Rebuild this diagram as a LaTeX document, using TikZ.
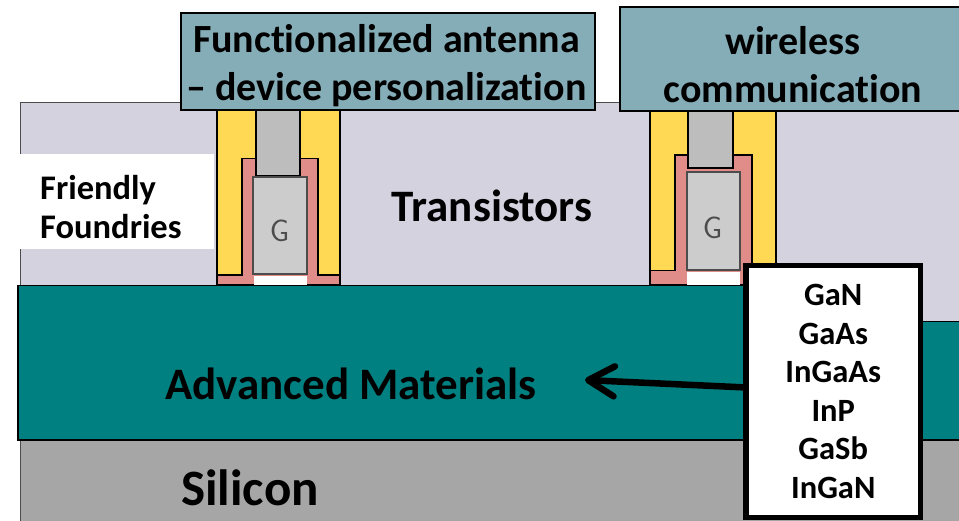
\documentclass[tikz,border=0pt]{standalone}
\usepackage{fontspec}
\setmainfont[Ligatures=NoCommon]{Carlito}
\usetikzlibrary{shapes,arrows.meta,positioning}
\definecolor{bgGray}{HTML}{D3D2DE}
\definecolor{tealLayer}{HTML}{008080}
\definecolor{siliconGray}{HTML}{A6A6A6}
\definecolor{antennaBlue}{HTML}{85ADB8}
\definecolor{spacerYellow}{HTML}{FFD954}
\definecolor{oxidePink}{HTML}{E08C88}
\definecolor{contactGray}{HTML}{BDBDBD}
\definecolor{gateGray}{HTML}{CCCCCC}
\begin{document}
\begin{tikzpicture}
  [
    x=1pt, y=-1pt,
    Layer/.style={rectangle, inner sep=0pt, anchor=north west},
    Antenna/.style={rectangle, draw=black, fill=antennaBlue, line width=1.5pt, inner sep=0pt},
    Label/.style={inner sep=0pt, align=center, font=\fontsize{45}{48}\selectfont\bfseries},
    AntennaText/.style={Label, font=\fontsize{40}{48}\selectfont\bfseries},
    Yellow/.style={draw=black, fill=spacerYellow, line width=1.4pt},
    Pink/.style={draw=black, fill=oxidePink, line width=1.4pt},
    Contact/.style={rectangle, draw=black, fill=contactGray, line width=1.2pt, inner sep=0pt},
    Gate/.style={rectangle, draw=black!70, fill=gateGray, line width=1.5pt, inner sep=0pt},
    GateText/.style={inner sep=0pt, text=black!70, font=\fontsize{31}{33}\sffamily},
    Drain/.style={rectangle, fill=white, inner sep=0pt}
  ]
  \useasboundingbox (0, 0) rectangle (959, 520);
  % Layers
  \node[Layer, fill=bgGray, draw=black!70, line width=0.8pt, minimum width=960pt, minimum height=230pt] (tran) at(19.5, 102) {};
  \node[Layer, fill=siliconGray, draw=black!70, line width=0.8pt, minimum width=960pt, minimum height=90pt] (si) at(19.5, 440) {};
  \draw[fill=tealLayer, line width=1.4pt] (18, 285.5) -- (800, 285.5) -- (800, 321.5) -- (965, 321.5) -- (965, 440) -- (18, 440) -- cycle;
  \node[Layer, fill=white, minimum width=194pt, minimum height=95pt] (foundry) at(19.5, 154) {};
  % First transistor
  \draw[Yellow] (217, 110) rectangle (340, 285);
  \draw[Pink] (242, 285) -- (217, 285) -- (217, 275) -- (242, 275) -- (242, 158.5) -- (318, 158.5) -- (318, 275) -- (340, 275) -- (340, 285) -- cycle;
  \node[Contact, minimum width=44pt, minimum height=66pt] (c1) at(278, 143) {};
  \node[Gate, minimum width=54pt, minimum height=97pt] (g1) at(280, 225.5) {};
  \node[GateText] (g1t) at(279.5, 231) {G};
  \node[Drain, minimum width=53pt, minimum height=9pt] (d1) at(280.5, 280.5) {};
  % Second transistor
  \draw[Yellow] (650, 110) rectangle (776, 285);
  \draw[Pink] (675, 285) -- (650, 285) -- (650, 270.5) -- (675, 270.5) -- (675, 155) -- (752, 155) -- (752, 285) -- cycle;
  \node[Contact, minimum width=45pt, minimum height=58pt] (c2) at(710.5, 139) {};
  \node[Gate, minimum width=53pt, minimum height=98pt] (g2) at(713.5, 221) {};
  \node[GateText] (g2t) at(712.5, 228) {G};
  \node[Drain, minimum width=53pt, minimum height=13pt] (d2) at(713.5, 278.5) {};
  \draw[line width=1.4pt] (18, 285.5) -- (745, 285.5);
  % Antenna boxes
  \node[Antenna, minimum width=414pt, minimum height=97pt] (ant1) at(388, 61.5) {};
  \node[AntennaText] (ant1t) at(386.5, 66) {Functionalized antenna\\– device personalization};
  \node[Antenna, minimum width=350pt, minimum height=104pt] (ant2) at(795, 59) {};
  \node[AntennaText] (ant2t) at(793, 65) {wireless\\communication};
  % Text
  \node[Label, anchor=west, align=left, font=\fontsize{34.5}{39.5}\selectfont\bfseries] (friendly) at(40, 207) {Friendly\\Foundries};
  \node[Label] (tlabel) at(492, 206) {Transistors};
  \node[Label] (adv) at(351, 384) {Advanced Materials};
  \node[Label, font=\fontsize{51}{53}\selectfont\bfseries] (silicon) at(250, 488) {Silicon};
  \node[rectangle, draw=black, fill=white, line width=5.5pt, inner sep=0pt, minimum width=174.5pt, minimum height=252pt, align=center, font=\fontsize{32.5}{38.5}\selectfont\bfseries] (list) at(833.25, 391.5) {GaN\\GaAs\\InGaAs\\InP\\GaSb\\InGaN};
  \coordinate (tip) at(585, 380);
  % Lines
  \path [{Straight Barb[round, length=26pt, width=30pt]}-, draw, line width=6.5pt] (tip) -- (list);
\end{tikzpicture}
\end{document}
